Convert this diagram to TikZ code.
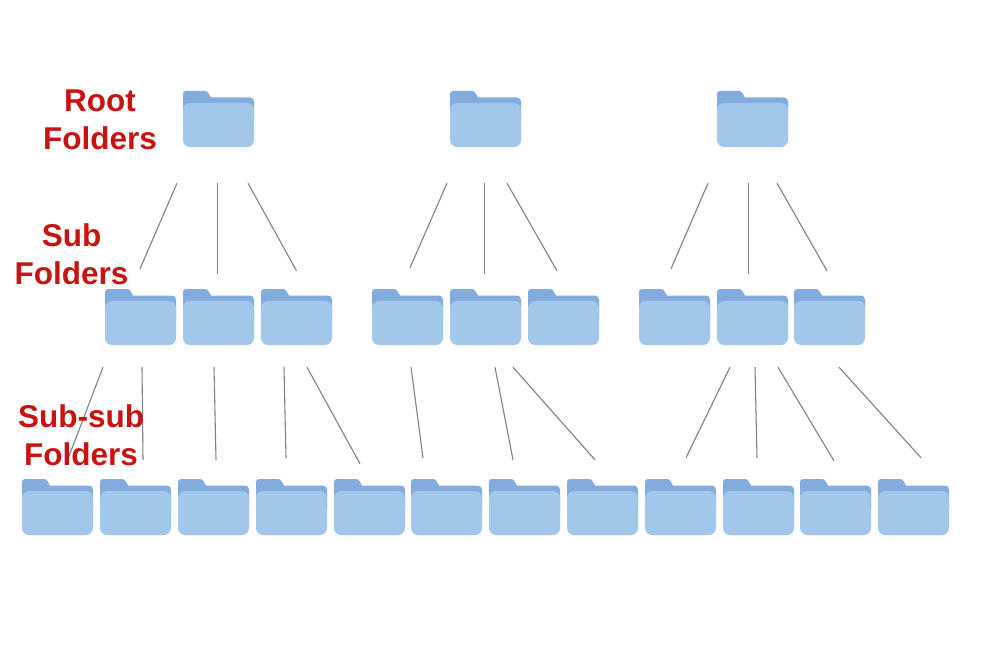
\documentclass[tikz,border=0pt]{standalone}
\usepackage{fontspec}
\setmainfont{Liberation Sans}
\usepackage{xcolor}
\definecolor{FolderFront}{RGB}{161,199,234}
\definecolor{FolderBack}{RGB}{131,172,222}
\definecolor{LabelRed}{RGB}{200,20,16}
\definecolor{LinkGray}{RGB}{128,128,128}
\newcommand{\folder}[3]{\begin{scope}[shift={(#2,#3)}]
\fill[FolderBack] (0,30) -- (0,3) arc[start angle=180,end angle=270,radius=3] -- (22,0)
 .. controls (24,0) and (25,1) .. (26,3) -- (28,6.5) -- (67,6.5) arc[start angle=-90,end angle=0,radius=4] -- (71,30) -- cycle;
\fill[FolderFront,rounded corners=7pt] (0,56) -- (0,12) -- (71,12) -- (71,56) -- cycle;
\node[folderbox] (#1) at (35.5,28) {};
\end{scope}}
\begin{document}
\begin{tikzpicture}[
x=1pt,y=-1pt,
folderbox/.style={rectangle,inner sep=0pt,minimum width=71pt,minimum height=56pt},
link/.style={draw=LinkGray,line width=1.1pt},
label/.style={align=center,text=LabelRed,font=\fontsize{31.5}{37.5}\selectfont\bfseries}
]
\useasboundingbox[fill=white] (0,0) rectangle (998,666);
% folders
\foreach \n/\x in {1/183,2/450,3/717} \folder{root\n}{\x}{91};
\foreach \n/\x in {1/105,2/183,3/261,4/372,5/450,6/528,7/639,8/717,9/794} \folder{sub\n}{\x}{289};
\foreach \n/\x in {1/22,2/100,3/178,4/256,5/334,6/411,7/489,8/567,9/645,10/723,11/800,12/878} \folder{leaf\n}{\x}{479};
% root to sub
\foreach \a/\ax/\b/\bx/\by in {root1/-41.5/sub1/-0.5/20,root1/-1/sub2/-1/15,root1/29.5/sub3/0/18,
root2/-38.5/sub4/2.5/21,root2/-1/sub5/-1/15,root2/21.5/sub6/-6.5/18,
root3/-44.5/sub7/-3.5/20,root3/-4/sub8/-4/15,root3/24.5/sub9/-2.5/18}
\draw[link] ([xshift=\ax,yshift=-36]\a.south) -- ([xshift=\bx,yshift=\by]\b.north);
% sub to leaf
\foreach \a/\ax/\b/\bx/\by in {sub1/-37.5/leaf1/10.5/20,sub1/1.5/leaf2/7.5/19,sub2/-4.5/leaf3/2.5/19,
sub3/-12.5/leaf4/-5.5/21,sub3/10.5/leaf5/-9.5/15,sub4/3.5/leaf6/-23.5/21,sub5/9.5/leaf7/-11.5/19,
sub6/-50.5/leaf8/-7.5/19,sub8/-22.5/leaf9/5.5/21,sub8/2.5/leaf10/-1.5/21,sub9/-51.5/leaf11/-1.5/18,sub9/9.5/leaf12/7.5/21}
\draw[link] ([xshift=\ax,yshift=-22]\a.south) -- ([xshift=\bx,yshift=\by]\b.north);
% labels
\node[label] (rootlabel) at (100,120) {Root\\Folders};
\node[label] (sublabel) at (71.5,254) {Sub\\Folders};
\node[label] (leaflabel) at (81,435) {Sub-sub\\Folders};
\end{tikzpicture}
\end{document}
